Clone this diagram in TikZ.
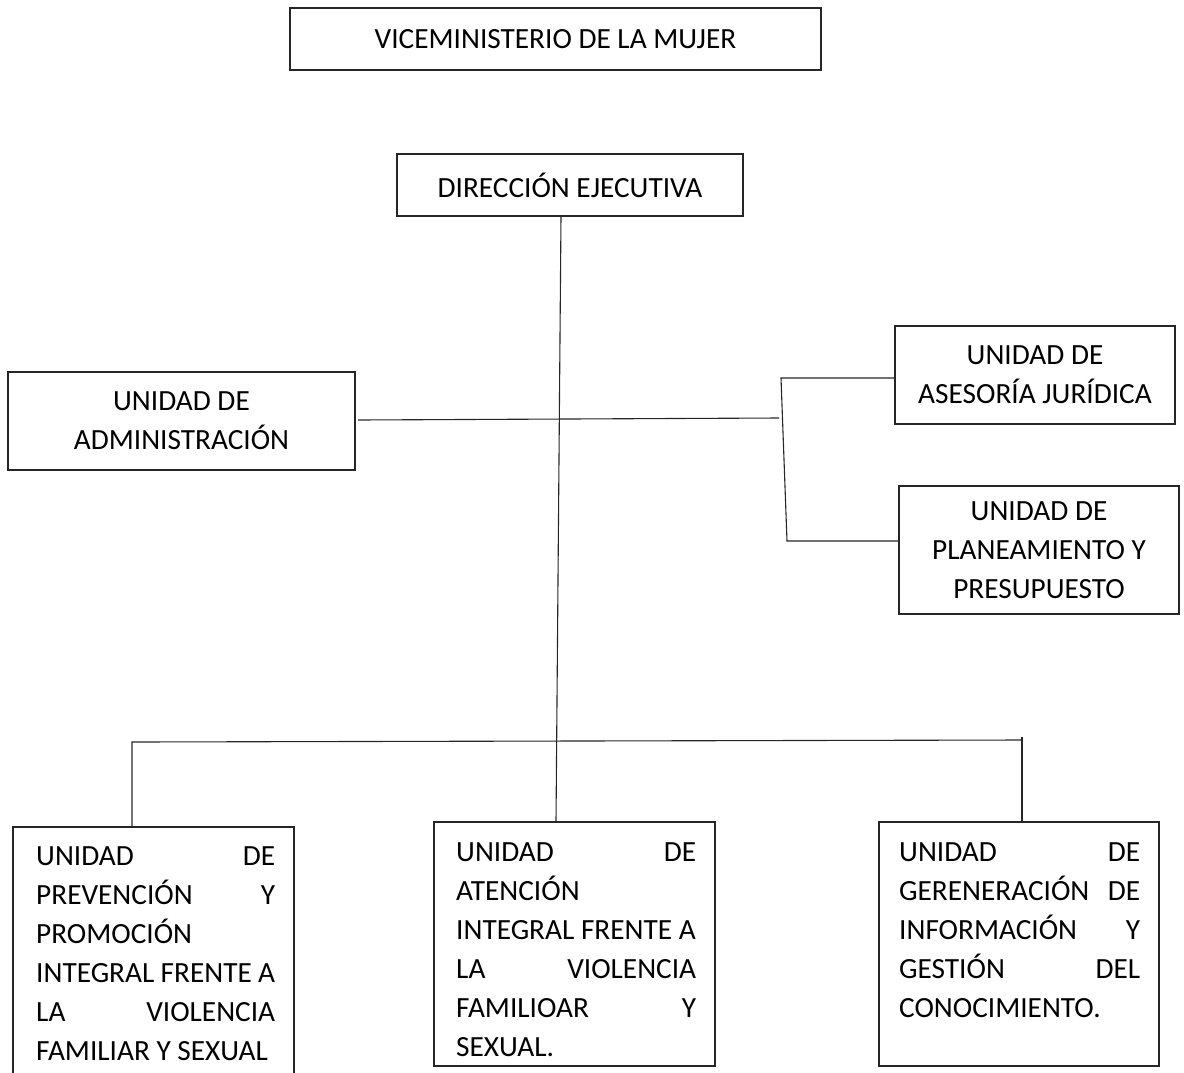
\documentclass[tikz,border=0pt]{standalone}
\usepackage{fontspec}
\setmainfont{Carlito}
\newcommand{\diagfont}{\fontsize{29.3}{39}\selectfont}
\begin{document}
\begin{tikzpicture}[x=1pt,y=-1pt,
  box/.style={draw=black!85, line width=1.1pt, inner sep=0pt, align=center,
    font=\diagfont},
  txt/.style={inner sep=0pt, anchor=base west},
  conn/.style={draw=black!85, line width=1.1pt}]
\useasboundingbox (0,0) rectangle (1184,1072);
% top boxes
\node[box, minimum width=531, minimum height=62] (vice) at (555.5,39) {VICEMINISTERIO DE LA MUJER};
\node[box, minimum width=346, minimum height=62] (dir) at (570,185) {DIRECCIÓN EJECUTIVA};
\node[box, minimum width=347, minimum height=98] (adm) at (181.5,421) {UNIDAD DE\\ADMINISTRACIÓN};
\node[box, minimum width=280, minimum height=98] (ase) at (1035,375) {UNIDAD DE\\ASESORÍA JURÍDICA};
\node[box, minimum width=280, minimum height=128] (pla) at (1039,550) {UNIDAD DE\\PLANEAMIENTO Y\\PRESUPUESTO};
% bottom boxes
\draw[conn] (13,827) rectangle (294,1090);
\node[box, minimum width=281, minimum height=244] (mid) at (574.5,944) {};
\node[box, minimum width=280, minimum height=244] (rgt) at (1019,944) {};
\coordinate (lb) at (132,827);
\node[txt] (tl) at (36,865) {\parbox[t]{239pt}{\diagfont
UNIDAD\hfill DE\\
PREVENCIÓN\hfill Y\\
PROMOCIÓN\\
INTEGRAL FRENTE A\\
LA\hfill VIOLENCIA\\
FAMILIAR Y SEXUAL}};
\node[txt] (tm) at (456,861) {\parbox[t]{240pt}{\diagfont
UNIDAD\hfill DE\\
ATENCIÓN\\
INTEGRAL FRENTE A\\
LA\hfill VIOLENCIA\\
FAMILIOAR\hfill Y\\
SEXUAL.}};
\node[txt] (tr) at (899,861) {\parbox[t]{241pt}{\diagfont
UNIDAD\hfill DE\\
GERENERACIÓN\hfill DE\\
INFORMACIÓN\hfill Y\\
GESTIÓN\hfill DEL\\
CONOCIMIENTO.}};
% connectors
\coordinate (vt) at (561,216);
\coordinate (vb) at (556,822);
\draw[conn] (vt) -- (vb);
\coordinate (ja) at (358,420);
\coordinate (jr) at (779,418);
\draw[conn] (ja) -- (jr);
\coordinate (b1) at (781,378);
\coordinate (b2) at (787,541);
\draw[conn] (ase.west |- b1) -- (b1) -- (b2) -- (pla.west |- b2);
\coordinate (hl) at (132,742);
\coordinate (hr) at (1022,740);
\coordinate (hrt) at (1022,737);
\draw[conn] (lb) -- (hl) -- (hr);
\draw[conn] (hrt) -- (rgt.north -| hrt);
\end{tikzpicture}
\end{document}
